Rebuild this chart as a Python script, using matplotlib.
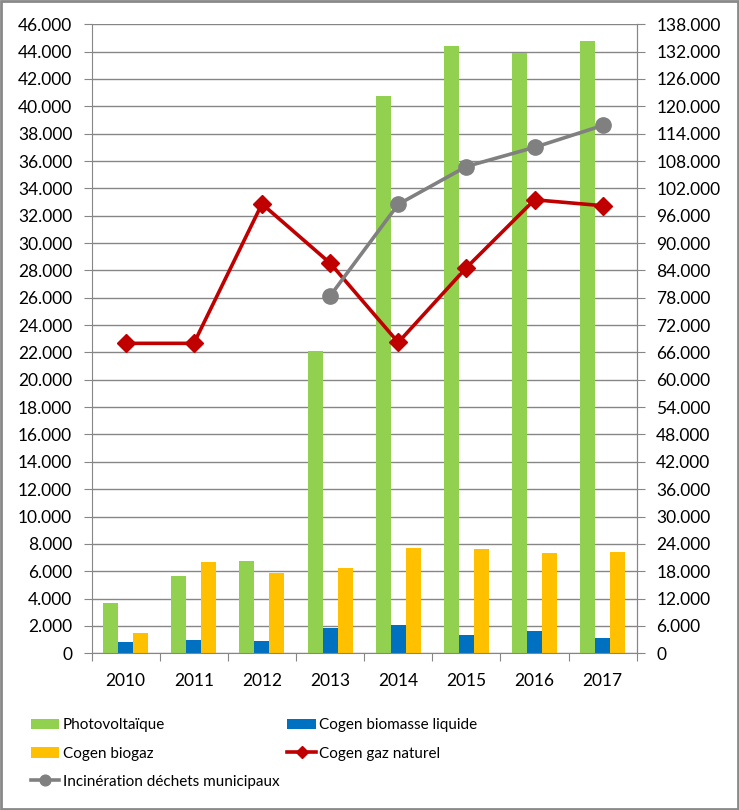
import matplotlib.pyplot as plt
from matplotlib.patches import Rectangle
from matplotlib.ticker import FuncFormatter, MultipleLocator
import numpy as np

plt.rcParams['font.family'] = ['Lato', 'DejaVu Sans']

# --- data ---
years = ['2010', '2011', '2012', '2013', '2014', '2015', '2016', '2017']
photovoltaique = [3700, 5650, 6750, 22100, 40750, 44400, 43900, 44780]
biomasse_liquide = [800, 1000, 900, 1850, 2070, 1370, 1630, 1120]
biogaz = [1500, 6700, 5900, 6250, 7700, 7630, 7340, 7410]
# right axis series
gaz_naturel = [68000, 68000, 98600, 85600, 68200, 84600, 99500, 98200]
incineration = [np.nan, np.nan, np.nan, 78400, 98500, 106800, 111000, 115800]

GREEN = '#92D050'
BLUE = '#0070C0'
ORANGE = '#FFC000'
RED = '#C00000'
GREY = '#808080'
AXIS = '#868686'

def thousands(v, pos):
    return f"{int(round(v)):,}".replace(",", ".")

fig = plt.figure(figsize=(7.39, 8.10), dpi=100)
ax = fig.add_axes([0.124, 0.1935, 0.7376, 0.7765])
ax2 = ax.twinx()

x = np.arange(len(years))
w = 0.22
b1 = ax.bar(x - w, photovoltaique, w, color=GREEN, zorder=2)
b2 = ax.bar(x, biomasse_liquide, w, color=BLUE, zorder=2)
b3 = ax.bar(x + w, biogaz, w, color=ORANGE, zorder=2)

l1, = ax2.plot(x, gaz_naturel, color=RED, lw=2.6, marker='D', ms=9, zorder=3)
l2, = ax2.plot(x, incineration, color=GREY, lw=2.6, marker='o', ms=11, zorder=3)

ax.set_xlim(-0.5, len(years) - 0.5)
ax.set_ylim(0, 46000)
ax2.set_ylim(0, 138000)
ax.yaxis.set_major_locator(MultipleLocator(2000))
ax2.yaxis.set_major_locator(MultipleLocator(6000))
ax.yaxis.set_major_formatter(FuncFormatter(thousands))
ax2.yaxis.set_major_formatter(FuncFormatter(thousands))

# category boundary ticks, labels centred
ax.set_xticks(np.arange(-0.5, len(years)), minor=False)
ax.set_xticklabels([])
ax.set_xticks(x, minor=True)
ax.set_xticklabels(years, minor=True)
ax.tick_params(axis='x', which='major', length=6, color=AXIS)
ax.tick_params(axis='x', which='minor', length=0, pad=14, labelsize=12.5)
ax.tick_params(axis='y', length=6, color=AXIS, pad=8, labelsize=12.5)
ax2.tick_params(axis='y', length=6, color=AXIS, pad=8, labelsize=12.5)

ax.grid(axis='y', color=AXIS, lw=1, zorder=0)
ax.set_axisbelow(True)
for a in (ax, ax2):
    a.spines['top'].set_visible(False)
    for s in ('left', 'right', 'bottom'):
        a.spines[s].set_color(AXIS)
ax2.spines['left'].set_visible(False)
ax2.spines['bottom'].set_visible(False)

handles = [b1, b3, l2, b2, l1]
labels = ['Photovoltaïque', 'Cogen biogaz', 'Incinération déchets municipaux',
          'Cogen biomasse liquide', 'Cogen gaz naturel']
fig.legend(handles, labels, loc='upper left', bbox_to_anchor=(0.042, 0.113),
           ncol=2, frameon=False, markerscale=0.7, handlelength=1.85,
           handletextpad=0.25, columnspacing=0.5, labelspacing=0.92,
           borderaxespad=0, borderpad=0, fontsize=11)

fig.patches.append(Rectangle((0.0015, 0.0015), 0.997, 0.997, transform=fig.transFigure,
                             fill=False, edgecolor='#898989', lw=2))

fig.savefig('out.png', dpi=100)
